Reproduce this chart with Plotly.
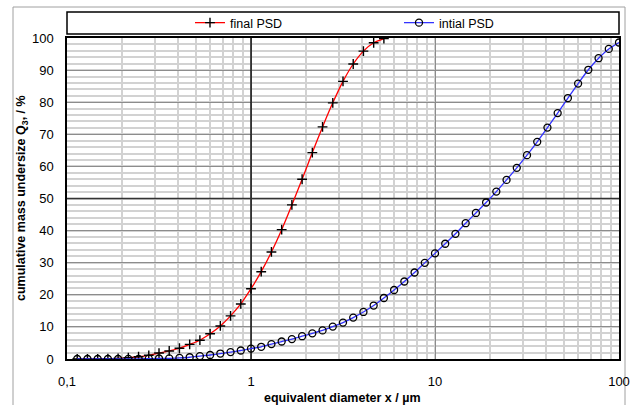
import plotly.graph_objects as go

# equivalent diameter classes (µm)
diameter_um = [0.11365, 0.12915, 0.14678, 0.16681, 0.18957, 0.21544, 0.24484, 0.27826,
               0.31623, 0.35938, 0.40842, 0.46416, 0.52749, 0.59948, 0.68129, 0.77426,
               0.87992, 1.0, 1.1365, 1.2915, 1.4678, 1.6681, 1.8957, 2.1544, 2.4484,
               2.7826, 3.1623, 3.5938, 4.0842, 4.6416, 5.2749, 5.9948, 6.8129, 7.7426,
               8.7992, 10.0, 11.365, 12.915, 14.678, 16.681, 18.957, 21.544, 24.484,
               27.826, 31.623, 35.938, 40.842, 46.416, 52.749, 59.948, 68.129, 77.426,
               87.992, 100.0]

# cumulative mass undersize Q3 (%)
final_psd = [0.0, 0.0, 0.05, 0.1, 0.2, 0.4, 0.7, 1.15, 1.85, 2.5, 3.35, 4.55, 5.85, 7.85,
             10.3, 13.45, 17.15, 21.9, 27.2, 33.35, 40.3, 48.0, 56.0, 64.3, 72.3, 79.8,
             86.5, 91.9, 95.9, 98.5, 99.8]

initial_psd = [0.0, 0.0, 0.0, 0.0, 0.0, 0.02, 0.05, 0.1, 0.15, 0.2, 0.35, 0.55, 0.9, 1.25,
               1.7, 2.15, 2.65, 3.25, 3.8, 4.65, 5.45, 6.2, 7.1, 8.0, 8.9, 10.1, 11.35,
               12.9, 14.65, 16.65, 19.0, 21.5, 24.15, 26.95, 29.95, 32.9, 35.9, 39.0, 42.3,
               45.5, 48.75, 52.15, 55.8, 59.55, 63.5, 67.65, 72.1, 76.6, 81.3, 85.8, 90.1,
               93.7, 96.6, 98.6]

x_tickvals = [0.1, 1, 10, 100]
x_ticktext = ["0,1", "1", "10", "100"]
y_tickvals = [0, 10, 20, 30, 40, 50, 60, 70, 80, 90, 100]

x_title = "<b>equivalent diameter x / µm</b>"
y_title = "<b>cumulative mass undersize Q<sub>3</sub>, / %</b>"

FONT = "Liberation Sans, Arial, sans-serif"

fig = go.Figure()

# emphasised reference lines (x = 1, Q3 = 50)
fig.add_trace(go.Scatter(x=[1, 1], y=[0, 100], mode="lines",
                         line=dict(color="black", width=1.3),
                         showlegend=False, hoverinfo="skip"))
fig.add_trace(go.Scatter(x=[0.1, 100], y=[50, 50], mode="lines",
                         line=dict(color="#333333", width=1.3),
                         showlegend=False, hoverinfo="skip"))

fig.add_trace(go.Scatter(
    x=diameter_um[:len(final_psd)], y=final_psd, name="final PSD",
    mode="lines+markers",
    line=dict(color="#ff0000", width=1.3, shape="spline", smoothing=0.6),
    marker=dict(symbol="cross-thin", size=7, color="black",
                line=dict(color="black", width=1.4)),
))
fig.add_trace(go.Scatter(
    x=diameter_um, y=initial_psd, name="intial PSD",
    mode="lines+markers",
    line=dict(color="#3333ff", width=1.3, shape="spline", smoothing=0.6),
    marker=dict(symbol="circle-open", size=7, color="black",
                line=dict(color="black", width=1.3)),
))

L, R, T, B = 67, 16, 38, 46
W, H = 635, 405
pw, ph = W - L - R, H - T - B

def px(xp):
    return (xp - L) / pw

def py(yp):
    return (H - B - yp) / ph

fig.update_layout(
    width=W, height=H, autosize=False,
    margin=dict(l=L, r=R, t=T, b=B, autoexpand=False),
    paper_bgcolor="white", plot_bgcolor="white",
    font=dict(family=FONT, size=13, color="black"),
    showlegend=True,
    legend=dict(orientation="h", x=px(190), y=py(8), xanchor="left", yanchor="top",
                bgcolor="rgba(0,0,0,0)", borderwidth=0,
                entrywidth=164, entrywidthmode="pixels",
                font=dict(family=FONT, size=12.5, color="black"),
                itemclick=False, itemdoubleclick=False),
    xaxis=dict(
        type="log", range=[-1, 2],
        tickvals=x_tickvals, ticktext=x_ticktext,
        showgrid=True, gridcolor="#8c8c8c", gridwidth=1,
        minor=dict(dtick="D1", showgrid=True, gridcolor="#d2d2d2", gridwidth=1.5, ticks=""),
        showline=True, linecolor="black", linewidth=1.5, mirror=True,
        ticks="", ticklabelstandoff=10,
        zeroline=False, automargin=False,
        tickfont=dict(family=FONT, size=13, color="black"),
    ),
    yaxis=dict(
        range=[0, 100], tickvals=y_tickvals,
        showgrid=True, gridcolor="#8c8c8c", gridwidth=1,
        minor=dict(dtick=2, showgrid=True, gridcolor="#d2d2d2", gridwidth=1.5, ticks=""),
        showline=True, linecolor="black", linewidth=1.5, mirror=True,
        ticks="", ticklabelstandoff=9,
        zeroline=False, automargin=False,
        tickfont=dict(family=FONT, size=13, color="black"),
    ),
    annotations=[
        dict(text=x_title, xref="paper", yref="paper", x=px(342), y=py(398),
             xanchor="center", yanchor="middle", showarrow=False,
             font=dict(family=FONT, size=12.5, color="black")),
        dict(text=y_title, xref="paper", yref="paper", x=px(22), y=py(198),
             xanchor="center", yanchor="middle", showarrow=False, textangle=-90,
             font=dict(family=FONT, size=12.5, color="black")),
    ],
    shapes=[
        # outer chart frame
        dict(type="rect", xref="paper", yref="paper",
             x0=px(13), x1=px(625), y0=py(430), y1=py(7),
             line=dict(color="#a0a0a0", width=1), fillcolor="rgba(0,0,0,0)", layer="below"),
        # legend box
        dict(type="rect", xref="paper", yref="paper",
             x0=0, x1=1, y0=py(34), y1=py(12),
             line=dict(color="black", width=1.5), fillcolor="rgba(0,0,0,0)"),
    ],
)

fig.write_html("out.html",
               config={"displayModeBar": False},
               post_script="document.body.style.margin='0';document.body.style.overflow='hidden';")
